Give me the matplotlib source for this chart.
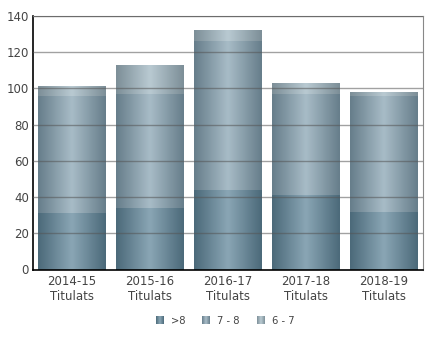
import numpy as np
import matplotlib
matplotlib.use("Agg")
import matplotlib.pyplot as plt
from matplotlib.colors import LinearSegmentedColormap
from matplotlib.patches import Rectangle
from matplotlib.legend_handler import HandlerBase

categories = ["2014-15\nTitulats", "2015-16\nTitulats", "2016-17\nTitulats",
              "2017-18\nTitulats", "2018-19\nTitulats"]
series_names = [">8", "7 - 8", "6 - 7"]
s_gt8 = [31, 34, 44, 41, 32]
s_7_8 = [65, 63, 82, 56, 64]
s_6_7 = [5, 16, 6, 6, 2]
yticks = [0, 20, 40, 60, 80, 100, 120, 140]

# (edge colour, centre colour) per series
grads = [("#4c6a7a", "#8aa6b5"), ("#677e8b", "#a8bcc7"), ("#7d8f98", "#b9cad2")]

def make_cmap(edge, centre):
    return LinearSegmentedColormap.from_list("g", [edge, centre, edge])

fig = plt.figure(figsize=(4.30, 3.48), dpi=100)
ax = fig.add_axes([33/430, 1 - 269.5/348, 390/430, 253.5/348])

x = np.arange(len(categories))
bottom = np.zeros(len(categories))
grad = np.linspace(0, 1, 64).reshape(1, -1)
for vals, (e, c) in zip([s_gt8, s_7_8, s_6_7], grads):
    bars = ax.bar(x, vals, width=0.86, bottom=bottom, color="none", edgecolor="none", zorder=2)
    cmap = make_cmap(e, c)
    for b in bars:
        x0, y0 = b.get_x(), b.get_y()
        w, h = b.get_width(), b.get_height()
        ax.imshow(grad, cmap=cmap, extent=[x0, x0 + w, y0, y0 + h], aspect="auto",
                  zorder=2, interpolation="bilinear")
    bottom += np.array(vals)

ax.set_xlim(-0.5, len(categories) - 0.5)
ax.set_ylim(0, 140)
ax.set_yticks(yticks)
ax.set_xticks(x)
ax.set_xticklabels(categories)
for yv in yticks[1:]:
    ax.axhline(yv, color="#555555", lw=1, alpha=0.55, zorder=3)
ax.tick_params(length=0, labelsize=8.5, labelcolor="#444444", pad=3)
ax.tick_params(axis="x", pad=4)
for s in ["top", "right"]:
    ax.spines[s].set_color("#888888")
for s in ["left", "bottom"]:
    ax.spines[s].set_color("#000000")
    ax.spines[s].set_linewidth(1.2)

class GradHandler(HandlerBase):
    def __init__(self, edge, centre):
        super().__init__()
        self.cmap = make_cmap(edge, centre)
    def create_artists(self, legend, orig, xd, yd, width, height, fontsize, trans):
        n = 8
        arts = []
        for i in range(n):
            r = Rectangle((xd + i * width / n, yd), width / n, height,
                          facecolor=self.cmap((i + 0.5) / n), edgecolor="none", transform=trans)
            arts.append(r)
        return arts

handles = [Rectangle((0, 0), 1, 1) for _ in series_names]
hmap = {h: GradHandler(e, c) for h, (e, c) in zip(handles, grads)}
fig.legend(handles, series_names, handler_map=hmap, loc="center",
           bbox_to_anchor=(225/430, 1 - 321/348), ncol=3, frameon=False,
           fontsize=7.2, labelcolor="#444444", handlelength=0.8, handleheight=0.8,
           handletextpad=0.7, columnspacing=1.7)

fig.savefig("out.png", dpi=100)
